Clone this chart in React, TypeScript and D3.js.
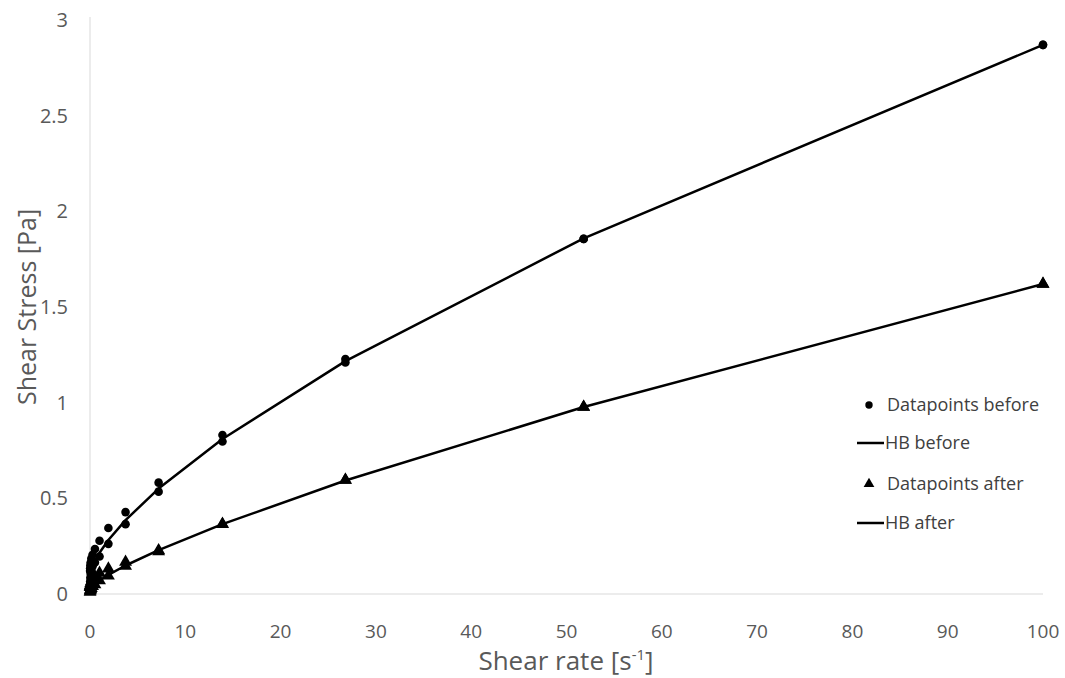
import React from "react";
import * as d3 from "d3";

const shearRates = [100, 51.8, 26.8, 13.9, 7.2, 3.73, 1.93, 1.0, 0.518, 0.268, 0.139, 0.072, 0.0373, 0.0193, 0.01];
const beforeSweep1 = [2.87, 1.856, 1.228, 0.831, 0.582, 0.428, 0.345, 0.278, 0.235, 0.205, 0.185, 0.165, 0.15, 0.135, 0.12];
const beforeSweep2 = [2.87, 1.856, 1.21, 0.797, 0.535, 0.365, 0.262, 0.196, 0.165, 0.145, 0.125, 0.105, 0.085, 0.065, 0.045];
const afterSweep1 = [1.62, 0.977, 0.596, 0.366, 0.228, 0.167, 0.132, 0.11, 0.09, 0.075, 0.065, 0.055, 0.045, 0.04, 0.035];
const afterSweep2 = [1.62, 0.977, 0.596, 0.364, 0.222, 0.146, 0.095, 0.07, 0.05, 0.04, 0.03, 0.025, 0.02, 0.015, 0.01];
const hbBefore = [2.87, 1.859, 1.217, 0.81, 0.551, 0.386, 0.282, 0.216, 0.173, 0.147, 0.13, 0.119, 0.112, 0.108, 0.105];
const hbAfter = [1.62, 0.977, 0.593, 0.365, 0.229, 0.149, 0.1, 0.072, 0.055, 0.045, 0.039, 0.035, 0.033, 0.032, 0.031];

const xTicks = [0, 10, 20, 30, 40, 50, 60, 70, 80, 90, 100];
const yTicks = [0, 0.5, 1, 1.5, 2, 2.5, 3];
const legendLabels = ["Datapoints before", "HB before", "Datapoints after", "HB after"];

const W = 1065;
const H = 678;
const FONT = "'Open Sans', sans-serif";
const GREY = "#595959";
const LEGEND_GREY = "#404040";

export default function App() {
  const x = d3.scaleLinear().domain([0, 100]).range([90, 1043]);
  const y = d3.scaleLinear().domain([0, 3]).range([594, 20]);

  const pairs = (vals: number[]) => shearRates.map((g, i) => [g, vals[i]] as [number, number]);
  const sorted = (vals: number[]) => pairs(vals).sort((a, b) => a[0] - b[0]);

  const line = d3
    .line<[number, number]>()
    .x((d) => x(d[0]))
    .y((d) => y(d[1]));

  const tri = d3.symbol().type(d3.symbolTriangle).size(72)() as string;
  const triSmall = d3.symbol().type(d3.symbolTriangle).size(50)() as string;

  const beforePts = [...pairs(beforeSweep1), ...pairs(beforeSweep2)];
  const afterPts = [...pairs(afterSweep1), ...pairs(afterSweep2)];

  return (
    <svg
      width={W}
      height={H}
      style={{ position: "absolute", left: 0, top: 0, background: "#fff" }}
      fontFamily={FONT}
    >
      <rect x={0} y={0} width={W} height={H} fill="#fff" />
      {/* axes */}
      <line x1={x(0)} x2={x(0)} y1={y(3) - 3} y2={y(0)} stroke="#d9d9d9" strokeWidth={1} />
      <line x1={x(0)} x2={x(100)} y1={y(0)} y2={y(0)} stroke="#d9d9d9" strokeWidth={1} />

      {yTicks.map((t) => (
        <text key={"y" + t} x={68} y={y(t)} dy="0.35em" textAnchor="end" fontSize={20} fill={GREY}>
          {t}
        </text>
      ))}
      {xTicks.map((t) => (
        <text key={"x" + t} x={x(t)} y={631} dy="0.35em" textAnchor="middle" fontSize={19} fill={GREY}>
          {t}
        </text>
      ))}

      <text x={566} y={670} textAnchor="middle" fontSize={26} fill={GREY}>
        Shear rate [s
        <tspan baselineShift="super" fontSize={15}>-1</tspan>
        ]
      </text>
      <text
        transform={`translate(27,${307}) rotate(-90)`}
        textAnchor="middle"
        dy="0.35em"
        fontSize={25}
        fill={GREY}
      >
        Shear Stress [Pa]
      </text>

      {/* fit lines */}
      <path d={line(sorted(hbBefore)) || ""} fill="none" stroke="#000" strokeWidth={2.5} strokeLinejoin="round" />
      <path d={line(sorted(hbAfter)) || ""} fill="none" stroke="#000" strokeWidth={2.5} strokeLinejoin="round" />

      {/* data points */}
      {beforePts.map((d, i) => (
        <circle key={"b" + i} cx={x(d[0])} cy={y(d[1])} r={4.3} fill="#000" />
      ))}
      {afterPts.map((d, i) => (
        <path key={"a" + i} d={tri} transform={`translate(${x(d[0])},${y(d[1])})`} fill="#000" />
      ))}

      {/* legend */}
      <g fontSize={18} fill={LEGEND_GREY}>
        <circle cx={869} cy={405} r={3.7} fill="#000" />
        <text x={887} y={405} dy="0.35em">{legendLabels[0]}</text>
        <line x1={857} x2={884} y1={443} y2={443} stroke="#000" strokeWidth={2.5} />
        <text x={885} y={443} dy="0.35em">{legendLabels[1]}</text>
        <path d={triSmall} transform="translate(869,484)" fill="#000" />
        <text x={887} y={484} dy="0.35em">{legendLabels[2]}</text>
        <line x1={857} x2={884} y1={523} y2={523} stroke="#000" strokeWidth={2.5} />
        <text x={885} y={523} dy="0.35em">{legendLabels[3]}</text>
      </g>
    </svg>
  );
}
